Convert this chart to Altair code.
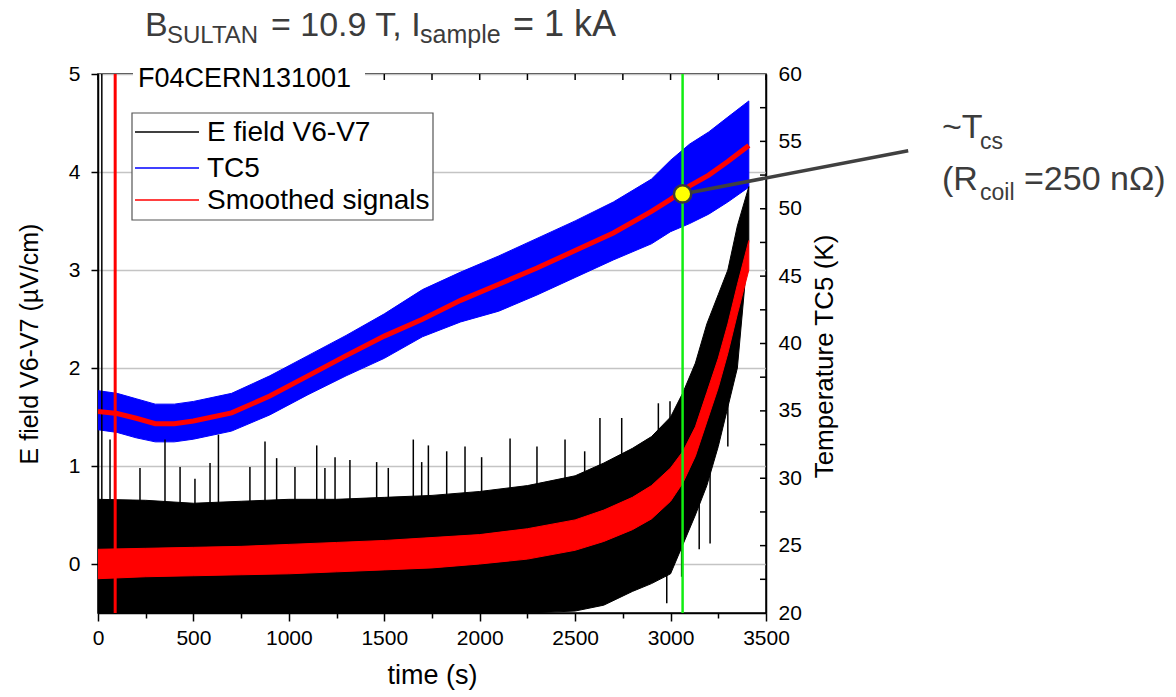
import altair as alt
import pandas as pd

FONT = "Liberation Sans"
GRAY_TXT = "#3c3c3c"

# ---------------- data ----------------
series = ["E field V6-V7", "TC5", "Smoothed signals"]
series_colors = ["#000000", "#0000ff", "#ff0000"]

# TC5 temperature band (K) and its smoothed curve
t_tc5 = [0, 100, 200, 300, 400, 500, 700, 900, 1100, 1300, 1500, 1700, 1900,
         2100, 2300, 2500, 2700, 2900, 3000, 3100, 3200, 3300, 3410]
tc5_upper = [36.5, 36.3, 35.9, 35.5, 35.5, 35.7, 36.3, 37.6, 39.1, 40.6, 42.2, 44.0, 45.3,
             46.5, 47.8, 49.1, 50.5, 52.2, 53.6, 54.8, 55.7, 56.8, 58.0]
tc5_lower = [33.6, 33.4, 33.0, 32.7, 32.7, 32.9, 33.5, 34.7, 36.2, 37.6, 38.9, 40.5, 41.6,
             42.4, 43.6, 44.9, 46.2, 47.4, 48.3, 48.9, 49.6, 50.5, 51.6]
tc5_smooth = [34.95, 34.8, 34.45, 34.05, 34.05, 34.25, 34.85, 36.1, 37.6, 39.1, 40.55, 41.8, 43.2,
              44.4, 45.6, 46.9, 48.2, 49.8, 50.7, 51.7, 52.5, 53.5, 54.7]

# E field band (uV/cm) and smoothed band
t_e = [0, 250, 500, 750, 1000, 1250, 1500, 1750, 2000, 2250, 2500, 2650, 2800, 2900,
       3000, 3065, 3130, 3190, 3250, 3300, 3350, 3410]
e_upper = [0.66, 0.65, 0.62, 0.64, 0.66, 0.66, 0.68, 0.70, 0.74, 0.80, 0.90, 1.03, 1.18, 1.30,
           1.50, 1.75, 2.05, 2.45, 2.75, 3.00, 3.45, 3.85]
e_lower = [-0.5, -0.5, -0.5, -0.5, -0.5, -0.5, -0.5, -0.5, -0.5, -0.5, -0.48, -0.42, -0.28, -0.2,
           -0.1, 0.2, 0.5, 0.8, 1.2, 1.6, 2.0, 3.3]
e_smooth_upper = [0.15, 0.16, 0.17, 0.18, 0.20, 0.22, 0.24, 0.27, 0.30, 0.36, 0.45, 0.55, 0.68, 0.80,
                  0.98, 1.15, 1.40, 1.75, 2.10, 2.45, 2.85, 3.30]
e_smooth_lower = [-0.15, -0.13, -0.12, -0.11, -0.10, -0.08, -0.06, -0.04, 0.0, 0.05, 0.14, 0.23, 0.35, 0.46,
                  0.64, 0.83, 1.10, 1.45, 1.80, 2.15, 2.55, 3.00]

# isolated E field spikes (time, low, high)
spike_t = [20, 63, 220, 351, 430, 508, 587, 631, 796, 875, 936, 1032, 1146, 1189, 1242, 1320,
           1460, 1521, 1652, 1696, 1731, 1827, 1923, 2010, 2159, 2300, 2447, 2550, 2630, 2744,
           2936, 2997, 2980, 3058, 3150, 3207, 3300]
spike_low = [-0.5, 0.3, 0.3, 0.3, 0.3, 0.3, 0.3, 0.3, 0.3, 0.3, 0.3, 0.3, 0.3, 0.3, 0.3, 0.3,
             0.3, 0.3, 0.3, 0.3, 0.3, 0.3, 0.3, 0.3, 0.3, 0.3, 0.3, 0.3, 0.3, 0.5,
             0.6, 0.6, -0.4, -0.13, 0.15, 0.21, 1.2]
spike_high = [5.0, 1.27, 0.98, 1.27, 0.99, 0.87, 1.03, 1.32, 0.99, 1.25, 1.08, 0.99, 1.21, 0.98, 1.09, 1.06,
              1.04, 0.98, 1.27, 1.04, 1.21, 1.15, 1.20, 1.09, 1.28, 1.20, 1.27, 1.15, 1.49, 1.49,
              1.64, 1.66, 0.5, 0.9, 1.2, 1.3, 2.4]

# markers
t_red_line = [90]
t_green_line = [3063]
tcs_point_t = [3063]
tcs_point_temp = [51.1]
annot_end_t = [4245]
annot_end_temp = [54.3]

# axes
x_domain = [0, 3500]
e_domain = [-0.5, 5]
temp_domain = [20, 60]
x_major = [0, 500, 1000, 1500, 2000, 2500, 3000, 3500]
x_all_ticks = [0, 250, 500, 750, 1000, 1250, 1500, 1750, 2000, 2250, 2500, 2750, 3000, 3250, 3500]
x_minor = [250, 750, 1250, 1750, 2250, 2750, 3250]
e_ticks = [0, 1, 2, 3, 4, 5]
temp_labels = [20, 25, 30, 35, 40, 45, 50, 55, 60]
temp_ticks = [22.5, 25, 27.5, 30, 32.5, 35, 37.5, 40, 42.5, 45, 47.5, 50, 52.5, 55, 57.5]

W, H = 668, 539

df_tc5 = pd.DataFrame({"t": t_tc5, "upper": tc5_upper, "lower": tc5_lower,
                       "smooth": tc5_smooth, "series": series[1]})
df_e = pd.DataFrame({"t": t_e, "upper": e_upper, "lower": e_lower,
                     "su": e_smooth_upper, "sl": e_smooth_lower})
df_spk = pd.DataFrame({"t": spike_t, "lo": spike_low, "hi": spike_high})


def xs(field="t", axis=None):
    return alt.X(field, type="quantitative",
                 scale=alt.Scale(domain=x_domain, nice=False, zero=False), axis=axis)


def ye(field, axis=None):
    return alt.Y(field, type="quantitative",
                 scale=alt.Scale(domain=e_domain, nice=False, zero=False), axis=axis)


def yt(field, axis=None):
    return alt.Y(field, type="quantitative",
                 scale=alt.Scale(domain=temp_domain, nice=False, zero=False), axis=axis)


axis_left = alt.Axis(orient="left", values=e_ticks, title="E field V6-V7 (µV/cm)",
                     grid=True, gridColor="#c4c4c4", gridWidth=1.5,
                     domain=True, domainColor="black", domainWidth=1.5,
                     ticks=True, tickSize=7, tickColor="black", tickWidth=1.5,
                     labelFont=FONT, labelFontSize=21, labelColor="black", labelPadding=11,
                     labelFlush=False,
                     titleFont=FONT, titleFontSize=25, titleFontWeight="normal",
                     titleColor="black", titlePadding=26)
axis_bottom = alt.Axis(orient="bottom", values=x_major, title="time (s)", format="d",
                       grid=False, domain=True, domainColor="black", domainWidth=1.5,
                       ticks=True, tickSize=8, tickColor="black", tickWidth=1.5,
                       labelFont=FONT, labelFontSize=21, labelColor="black", labelPadding=6,
                       labelFlush=False,
                       titleFont=FONT, titleFontSize=27, titleFontWeight="normal",
                       titleColor="black", titlePadding=14)
axis_bottom_minor = alt.Axis(orient="bottom", values=x_minor, title=None, labels=False,
                             grid=False, domain=False, ticks=True, tickSize=5,
                             tickColor="black", tickWidth=1.5)
axis_right = alt.Axis(orient="right", values=temp_labels, title="Temperature TC5 (K)",
                      grid=False, domain=True, domainColor="black", domainWidth=1.5,
                      ticks=False, tickSize=0,
                      labelFont=FONT, labelFontSize=21, labelColor="black", labelPadding=12,
                      labelFlush=False,
                      titleFont=FONT, titleFontSize=26, titleFontWeight="normal",
                      titleColor="black", titlePadding=10, titleAngle=270,
                      titleBaseline="top", titleY=282)

layers = []

# TC5 band
layers.append(alt.Chart(df_tc5).mark_area(fill=series_colors[1], stroke=series_colors[1],
                                          strokeWidth=1, clip=True)
              .encode(x=xs("t"), y=yt("upper"), y2="lower"))

# E field band (carries left & bottom axes)
layers.append(alt.Chart(df_e).mark_area(fill=series_colors[0], stroke=series_colors[0],
                                        strokeWidth=1, clip=True)
              .encode(x=xs("t", axis_bottom), y=ye("upper", axis_left), y2="lower"))

# E field spikes
layers.append(alt.Chart(df_spk).mark_rule(color="black", strokeWidth=1.5, clip=True)
              .encode(x=xs("t"), y=ye("lo"), y2="hi"))

# Smoothed E band
layers.append(alt.Chart(df_e).mark_area(fill=series_colors[2], stroke=series_colors[2],
                                        strokeWidth=1, clip=True)
              .encode(x=xs("t"), y=ye("su"), y2="sl"))

# Smoothed TC5 curve
layers.append(alt.Chart(df_tc5).mark_line(color=series_colors[2], strokeWidth=5, clip=True)
              .encode(x=xs("t"), y=yt("smooth")))

# vertical markers
layers.append(alt.Chart(pd.DataFrame({"t": t_red_line})).mark_rule(color="#ff0000", strokeWidth=3)
              .encode(x=xs("t")))
layers.append(alt.Chart(pd.DataFrame({"t": t_green_line})).mark_rule(color="#11ee11", strokeWidth=2.5)
              .encode(x=xs("t")))

# annotation leader + Tcs point
df_pt = pd.DataFrame({"t": tcs_point_t, "temp": tcs_point_temp,
                      "t2": annot_end_t, "temp2": annot_end_temp})
layers.append(alt.Chart(df_pt).mark_rule(color="#404040", strokeWidth=3.5, clip=False)
              .encode(x=xs("t"), x2="t2", y=yt("temp"), y2="temp2"))
layers.append(alt.Chart(df_pt).mark_point(filled=True, fill="#ffff00", stroke="#3a3a3a",
                                          strokeWidth=2.5, size=300, opacity=1)
              .encode(x=xs("t"), y=yt("temp")))

# top ticks (inward) – also carries minor bottom ticks
layers.append(alt.Chart(pd.DataFrame({"tick": x_all_ticks})).mark_rule(color="black", strokeWidth=1.5)
              .encode(x=xs("tick", axis_bottom_minor), y=alt.value(0), y2=alt.value(6)))
# right inward ticks – carries right axis
layers.append(alt.Chart(pd.DataFrame({"tick": temp_ticks})).mark_rule(color="black", strokeWidth=1.5)
              .encode(y=yt("tick", axis_right), x=alt.value(W), x2=alt.value(W - 6)))


def label(text, x, y, size, color=GRAY_TXT, align="left", baseline="alphabetic"):
    return (alt.Chart(pd.DataFrame({"label": [text]}))
            .mark_text(align=align, baseline=baseline, font=FONT, fontSize=size, color=color)
            .encode(text="label:N", x=alt.value(x), y=alt.value(y)))


# sample name on the top frame
layers.append(alt.Chart(pd.DataFrame({"label": ["F04CERN131001"]}))
              .mark_rect(fill="white", stroke=None)
              .encode(x=alt.value(35), x2=alt.value(267), y=alt.value(-10), y2=alt.value(18)))
layers.append(label("F04CERN131001", 40, 13, 27, color="black"))

# legend (drawn)
legend_rows = [58, 94, 126]
layers.append(alt.Chart(pd.DataFrame({"label": ["legend"]}))
              .mark_rect(fill="white", stroke="#555555", strokeWidth=1.2)
              .encode(x=alt.value(34), x2=alt.value(335), y=alt.value(39), y2=alt.value(146)))
for name, col, ry in zip(series, series_colors, legend_rows):
    layers.append(alt.Chart(pd.DataFrame({"series": [name]}))
                  .mark_rule(color=col, strokeWidth=1.5)
                  .encode(x=alt.value(37), x2=alt.value(101), y=alt.value(ry)))
    layers.append(label(name, 109, ry + 1, 28, color="black", baseline="middle"))

# chart title with subscripts
layers.append(label("B", 47, -38, 34))
layers.append(label("SULTAN", 69, -31, 24))
layers.append(label("= 10.9 T, I", 173, -38, 34))
layers.append(label("sample", 322, -31, 25))
layers.append(label("= 1 kA", 415, -38, 36))

# annotation text
layers.append(label("~T", 844, 64, 34))
layers.append(label("cs", 882, 75, 23))
layers.append(label("(R", 844, 116, 34))
layers.append(label("coil", 882, 126, 23))
layers.append(label("=250 nΩ)", 926, 116, 34))

chart = (alt.layer(*layers)
         .resolve_scale(x="independent", y="independent")
         .resolve_axis(x="independent", y="independent")
         .properties(width=W, height=H,
                     autosize=alt.AutoSizeParams(type="none"),
                     padding={"left": 98, "top": 74, "right": 410, "bottom": 84})
         .configure_view(stroke="black", strokeWidth=1.5))

chart.save("out.html", embed_options={"renderer": "svg", "actions": False})
